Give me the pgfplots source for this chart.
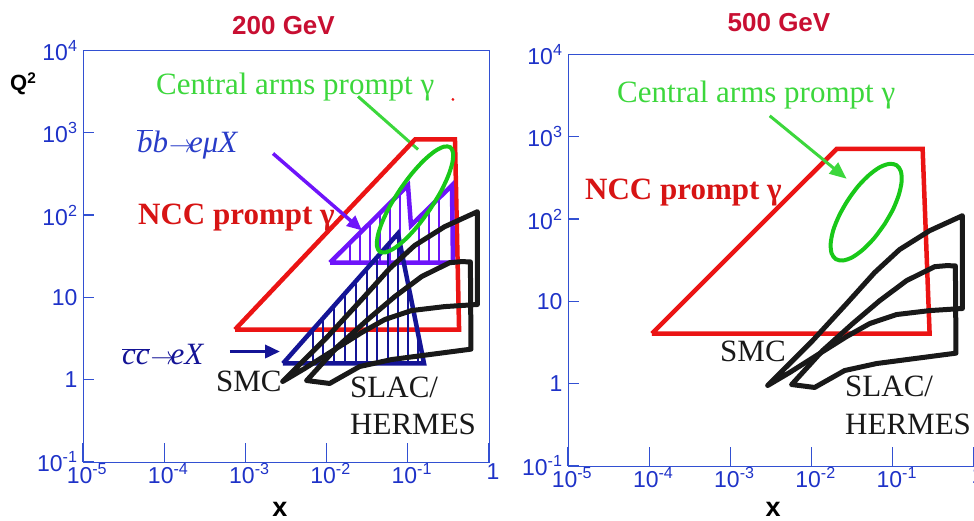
\documentclass[border=0pt]{standalone}
\usepackage{fontspec}
\setmainfont{Liberation Serif}
\newfontfamily\arial{Liberation Sans}
\usepackage{pgfplots}
\pgfplotsset{compat=1.18}
\usetikzlibrary{arrows.meta}

\definecolor{ncc}{RGB}{235,20,20}
\definecolor{ncctext}{RGB}{215,20,20}
\definecolor{titlered}{RGB}{200,15,50}
\definecolor{ellgreen}{RGB}{25,200,25}
\definecolor{txtgreen}{RGB}{60,215,60}
\definecolor{bbviolet}{RGB}{110,20,250}
\definecolor{ccnavy}{RGB}{20,20,150}
\definecolor{bbtext}{RGB}{40,60,200}
\definecolor{axisblue}{RGB}{50,80,210}
\definecolor{ticklab}{RGB}{30,50,200}
\definecolor{expblack}{RGB}{25,25,25}

\newcommand{\labelfont}{\fontsize{31}{31}\selectfont}

\pgfplotsset{
  every axis/.append style={
    scale only axis, width=406pt, height=411.5pt,
    xmin=1e-5, xmax=1, ymin=0.1, ymax=1e4,
    axis line style={draw=axisblue, line width=0.9pt},
    xtick={1e-5,1e-4,1e-3,1e-2,1e-1,1},
    xticklabels={10\textsuperscript{-5},10\textsuperscript{-4},10\textsuperscript{-3},10\textsuperscript{-2},10\textsuperscript{-1},1},
    ytick={0.1,1,10,100,1000,10000},
    yticklabels={10\textsuperscript{-1},1,10,10\textsuperscript{2},10\textsuperscript{3},10\textsuperscript{4}},
    xminorticks=false, yminorticks=false,
    tick align=inside, xtick pos=bottom, ytick pos=left,
    major tick length=19pt,
    tick style={draw=axisblue, line width=1.2pt},
    ytick style={/pgfplots/major tick length=11pt},
    ticklabel style={font=\arial\fontsize{23}{23}\selectfont, text=ticklab},
    xticklabel style={xshift=4pt, yshift=2pt},
    yticklabel style={xshift=-2pt},
  },
}

% SMC and SLAC/HERMES coverage (same in both panels)
\newcommand{\fixedtarget}{%
  \addplot[draw=expblack, line width=5pt, line join=round, line cap=round] coordinates {(0.00288,0.951) (0.0103,3.34) (0.0270,9.40) (0.0597,22.4) (0.121,42.6) (0.284,72.3) (0.72,110) (0.72,8.2) (0.284,7.73) (0.111,6.92) (0.052,5.38) (0.027,3.74) (0.0126,2.33) (0.00538,1.37) (0.00288,0.951)};
  \addplot[draw=expblack, line width=5pt, line join=round, line cap=round] coordinates {(0.00569,0.977) (0.0109,0.90) (0.0255,1.445) (0.0632,1.758) (0.60,2.35) (0.59,27.0) (0.459,27.2) (0.327,26.4) (0.148,17.9) (0.0689,10.2) (0.0321,5.38) (0.0137,2.53) (0.00569,0.977)};
}

\begin{document}
\begin{tikzpicture}
\useasboundingbox (0pt,0pt) rectangle (974pt,521pt);

% ---------------- 200 GeV ----------------
\begin{loglogaxis}[at={(83pt,59pt)}, anchor=south west]
  \addplot[draw=txtgreen, line width=3pt] coordinates {(0.0244,2763) (0.1337,627)};
  \addplot[draw=ncc, line width=4.5pt] coordinates {(7.45e-4,4.07) (0.1227,830) (0.381,830) (0.428,4.07) (7.45e-4,4.07)};
  % b-bbar -> e mu X: outline and hatching
  \addplot[draw=bbviolet, line width=1.2pt, unbounded coords=jump] coordinates {
    (0.01941,26.5) (0.01941,46.0) (nan,nan) (0.02576,26.5) (0.02576,60.8) (nan,nan)
    (0.03420,26.5) (0.03420,80.2) (nan,nan) (0.04550,26.5) (0.04550,105.7) (nan,nan)
    (0.06039,26.5) (0.06039,139) (nan,nan) (0.08017,26.5) (0.08017,183.6) (nan,nan)
    (0.1374,26.5) (0.1374,92.9) (nan,nan) (0.1824,26.5) (0.1824,122) (nan,nan)
    (0.2421,26.5) (0.2421,160)};
  \addplot[draw=bbviolet, line width=4.5pt] coordinates {(0.01102,26.5) (0.1005,230) (0.1094,74.8) (0.350,230) (0.360,26.5) (0.01102,26.5)};
  % c-cbar -> e X: outline and hatching
  \addplot[draw=ccnavy, line width=1.2pt, unbounded coords=jump] coordinates {
    (6.81e-3,1.574) (6.81e-3,4.06) (nan,nan) (9.04e-3,1.574) (9.04e-3,5.57) (nan,nan)
    (0.01233,1.574) (0.01233,7.91) (nan,nan) (0.01686,1.574) (0.01686,11.2) (nan,nan)
    (0.02301,1.574) (0.02301,15.8) (nan,nan) (0.03148,1.574) (0.03148,22.4) (nan,nan)
    (0.04178,1.574) (0.04178,30.8) (nan,nan) (0.05702,1.574) (0.05702,43.6) (nan,nan)
    (0.0757,1.574) (0.0757,59.7) (nan,nan) (0.1005,1.574) (0.1005,14.8) (nan,nan)
    (0.1337,1.574) (0.1337,3.64)};
  \addplot[draw=ccnavy, line width=4.5pt] coordinates {(2.904e-3,1.574) (0.0757,59.7) (0.1585,1.574) (2.904e-3,1.574)};
  \fixedtarget
  \addplot[draw=ellgreen, line width=4pt, smooth] coordinates {(0.1875,117) (0.1349,75.3) (0.0962,52.2) (0.0702,40.3) (0.0541,35.4) (0.0452,35.9) (0.0417,42.1) (0.0427,56.1) (0.0484,82.4) (0.0603,129) (0.0804,205) (0.1117,318) (0.1567,459) (0.2148,596) (0.2786,678) (0.333,668) (0.361,570) (0.353,428) (0.311,291) (0.250,186) (0.1875,117)};
  \addplot[draw=bbviolet, line width=3.5pt, -{Triangle[length=15pt,width=13pt]}] coordinates {(2.19e-3,560) (0.0273,65.0)};
  \addplot[draw=ccnavy, line width=3.5pt, -{Triangle[length=15pt,width=13pt]}] coordinates {(6.46e-4,2.20) (2.67e-3,2.20)};
  \addplot[only marks, mark=*, mark size=1.2pt, color=ncc] coordinates {(0.360,2540)};
\end{loglogaxis}

% ---------------- 500 GeV ----------------
\begin{loglogaxis}[at={(568pt,55pt)}, anchor=south west]
  \addplot[draw=ncc, line width=4.5pt] coordinates {(1.079e-4,4.06) (0.0204,714) (0.233,714) (0.284,4.06) (1.079e-4,4.06)};
  \fixedtarget
  \addplot[draw=ellgreen, line width=4pt, smooth] coordinates {(0.0793,86.9) (0.0592,58.9) (0.0432,42.8) (0.0318,34.4) (0.0243,31.4) (0.0198,32.7) (0.0176,38.6) (0.0172,51.0) (0.0185,73.6) (0.0219,111) (0.0279,169) (0.0373,250) (0.0512,344) (0.0695,428) (0.0910,469) (0.1114,451) (0.1256,381) (0.1285,288) (0.1191,200) (0.1009,132) (0.0793,86.9)};
  \addplot[draw=txtgreen, line width=3pt, -{Triangle[length=17pt,width=14pt]}] coordinates {(3.05e-3,1799) (0.0270,309)};
\end{loglogaxis}

% titles and axis names
\node[anchor=base, inner sep=0, font=\arial\bfseries\fontsize{26}{26}\selectfont, text=titlered] at (283.5pt,486pt) {200 GeV};
\node[anchor=base, inner sep=0, font=\arial\bfseries\fontsize{26}{26}\selectfont, text=titlered] at (779pt,489pt) {500 GeV};
\node[anchor=base west, inner sep=0, font=\arial\bfseries\fontsize{22}{22}\selectfont] at (10pt,430pt) {Q\textsuperscript{2}};
\node[anchor=base, inner sep=0, font=\arial\bfseries\fontsize{27}{27}\selectfont] at (280pt,4pt) {x};
\node[anchor=base, inner sep=0, font=\arial\bfseries\fontsize{27}{27}\selectfont] at (773pt,4pt) {x};

% labels, 200 GeV panel
\node[anchor=base west, inner sep=0, font=\labelfont, text=txtgreen] at (156pt,426pt) {Central arms prompt γ};
\node[anchor=base west, inner sep=0, font=\labelfont, text=bbtext] at (137pt,368pt) {\textit{$\overline{\mbox{\textit{b}}}$b}\kern1pt$\rightarrow$\kern-5pt\textit{eμX}};
\node[anchor=base west, inner sep=0, font=\labelfont\bfseries, text=ncctext] at (138pt,296pt) {NCC prompt γ};
\node[anchor=base west, inner sep=0, font=\labelfont, text=ccnavy] at (122pt,156pt) {\textit{$\overline{\mbox{\textit{cc}}}$}\kern1pt$\rightarrow$\kern-5pt\textit{eX}};
\node[anchor=base west, inner sep=0, font=\labelfont, text=expblack] at (216pt,129pt) {SMC};
\node[anchor=base west, inner sep=0, font=\labelfont, text=expblack] at (350pt,123pt) {SLAC/};
\node[anchor=base west, inner sep=0, font=\labelfont, text=expblack] at (350pt,86pt) {HERMES};

% labels, 500 GeV panel
\node[anchor=base west, inner sep=0, font=\labelfont, text=txtgreen] at (617pt,418pt) {Central arms prompt γ};
\node[anchor=base west, inner sep=0, font=\labelfont\bfseries, text=ncctext] at (585pt,321pt) {NCC prompt γ};
\node[anchor=base west, inner sep=0, font=\labelfont, text=expblack] at (720pt,159pt) {SMC};
\node[anchor=base west, inner sep=0, font=\labelfont, text=expblack] at (845pt,124pt) {SLAC/};
\node[anchor=base west, inner sep=0, font=\labelfont, text=expblack] at (845pt,86pt) {HERMES};
\end{tikzpicture}
\end{document}
